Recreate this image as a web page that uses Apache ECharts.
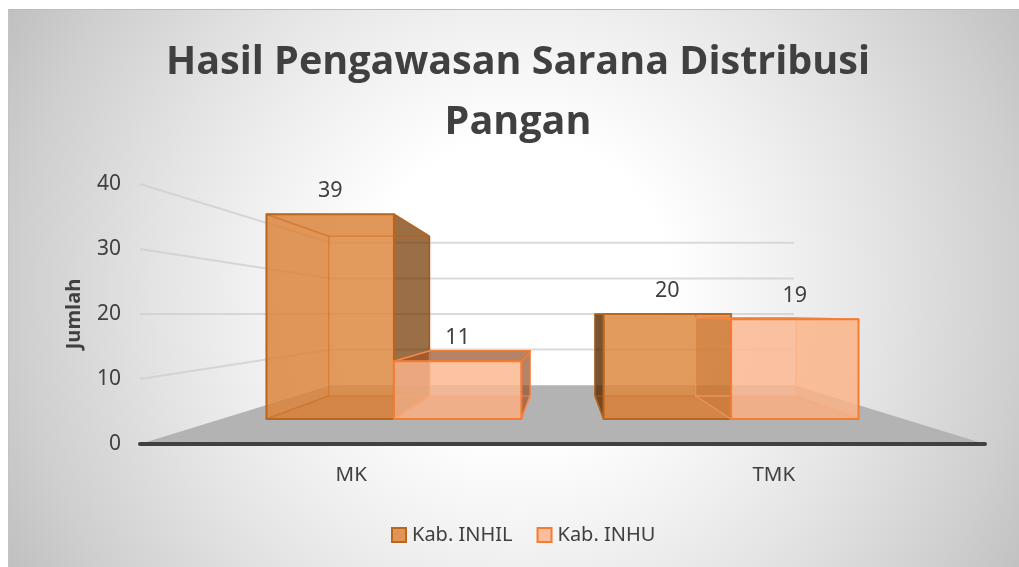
<!DOCTYPE html>
<html><head><meta charset="utf-8">
<script src="https://cdn.jsdelivr.net/npm/echarts@6/dist/echarts.min.js"></script>
<style>
html,body{margin:0;padding:0;background:#fff;overflow:hidden;}
#bg{position:absolute;left:8px;top:9px;width:1011px;height:558px;box-sizing:border-box;border-top:1px solid #bdbdbd;border-left:1px solid #c4c4c4;
background:radial-gradient(circle 581px at 510px 279px,#fff 0,#fff 150px,#efefef 280px,#e4e4e4 362px,#cfcfcf 500px,#c0c0c0 581px);}
#c{position:absolute;left:0;top:0;width:1019px;height:567px;}
</style></head><body><div id="bg"></div><div id="c"></div>
<script>
const titleText = 'Hasil Pengawasan Sarana Distribusi\nPangan';
const categories = ['MK', 'TMK'];
const inhil = [39, 20];
const inhu = [11, 19];
const yTicks = [0, 10, 20, 30, 40];
const yName = 'Jumlah';
const seriesNames = ['Kab. INHIL', 'Kab. INHU'];

const HORIZON = 20, S_WALL = 0.548, S_FRONT = 0.808, S_FRONT_X = 0.798, S_BACK = 0.63, BAR_FRAC = 0.378;
const LOOK = [
  { front: 'rgba(222,135,62,0.84)', stroke: '#B9671F', outerRight: 'rgba(115,55,0,0.72)', outerLeft: 'rgba(85,40,0,0.8)', outerStroke: '#A85C1C',
    inner: 'rgba(185,95,25,0.07)', bottom: 'rgba(185,95,25,0.15)', innerStroke: 'rgba(205,110,35,0.4)' },
  { front: 'rgba(250,183,143,0.84)', stroke: '#F47C34', outerRight: 'rgba(150,80,40,0.7)', outerLeft: 'rgba(150,80,40,0.7)', outerStroke: '#F47C34',
    inner: 'rgba(240,125,60,0.07)', bottom: 'rgba(230,120,60,0.12)', innerStroke: 'rgba(255,170,125,0.35)', shared: 'rgba(170,85,20,0.22)' }
];
function poly(points, fill, stroke, lw) {
  return { type: 'polygon', silent: true, shape: { points }, style: { fill, stroke, lineWidth: lw, lineJoin: 'round' } };
}
function vanish(params, api) {
  const g = params.coordSys;
  return [g.x + g.width / 2, api.coord([0, HORIZON])[1]];
}
function wallItem(params, api) {
  const g = params.coordSys, vp = vanish(params, api), v = api.value(1);
  const p = api.coord([0, v]);
  const a = [g.x, p[1]], b = [g.x + g.width, p[1]];
  const back = q => [vp[0] + S_WALL * (q[0] - vp[0]), vp[1] + S_WALL * (q[1] - vp[1])];
  const a2 = back(a), b2 = back(b);
  if (v === 0) return poly([a, b, b2, a2], '#B3B3B3', null, 0);
  return { type: 'polyline', silent: true, shape: { points: [a, a2, b2] },
    style: { stroke: 'rgba(205,205,205,0.75)', lineWidth: 2, fill: null } };
}
function barItem(si) {
  return function (params, api) {
    const L = LOOK[si], vp = vanish(params, api);
    const idx = api.value(0), val = api.value(1);
    const cx = api.coord([idx, 0])[0], w = api.size([1, 0])[0] * BAR_FRAC;
    const y0 = api.coord([idx, 0])[1], y1 = api.coord([idx, val])[1];
    const xa = si === 0 ? cx - w : cx, xb = si === 0 ? cx : cx + w;
    const P = (x, y, sx, sy) => [vp[0] + sx * (x - vp[0]), vp[1] + sy * (y - vp[1])];
    const F = (x, y) => P(x, y, S_FRONT_X, S_FRONT), B = (x, y) => P(x, y, S_BACK, S_BACK);
    const f = [F(xa, y1), F(xb, y1), F(xb, y0), F(xa, y0)];
    const b = [B(xa, y1), B(xb, y1), B(xb, y0), B(xa, y0)];
    const top = [f[0], f[1], b[1], b[0]], bot = [f[3], f[2], b[2], b[3]];
    const left = [f[0], f[3], b[3], b[0]], right = [f[1], f[2], b[2], b[1]];
    const kids = [poly(b, 'rgba(255,255,255,0)', L.innerStroke, 1.5)];
    const after = [];
    // left face
    if (si === 0 && xa > vp[0]) kids.push(poly(left, L.outerLeft, L.outerStroke, 1.5));
    else after.push(poly(left, (si === 1 && xa > vp[0]) ? L.shared : L.inner, L.innerStroke, 1.5));
    // right face
    if (xb < vp[0]) kids.push(poly(right, L.outerRight, L.outerStroke, 1.5));
    else after.push(poly(right, L.inner, L.innerStroke, 1.5));
    // top face
    if (y1 > vp[1] + 6) kids.push(poly(top, L.outerRight, L.outerStroke, 1.5));
    else after.push(poly(top, L.inner, L.innerStroke, 1.5));
    after.push(poly(bot, L.bottom, L.innerStroke, 1.5));
    kids.push(poly(f, L.front, null, 0));
    after.forEach(q => kids.push(q));
    kids.push(poly(f, 'rgba(255,255,255,0)', L.stroke, 2));
    kids.push({ type: 'text', silent: true, x: (f[0][0] + f[1][0]) / 2, y: f[0][1] - 23,
      style: { text: String(val), fill: '#404040', font: '21.5px "Noto Sans"', align: 'center', verticalAlign: 'middle' } });
    return { type: 'group', children: kids };
  };
}
const toRows = arr => arr.map((v, i) => [i, v]);
const chart = echarts.init(document.getElementById('c'), null, { renderer: 'canvas' });
chart.setOption({
  animation: false,
  backgroundColor: 'transparent',
  title: { text: titleText, left: 513, textAlign: 'center', top: 28,
    textStyle: { fontFamily: 'Open Sans', fontWeight: 'bold', fontSize: 39.5, lineHeight: 60, color: '#404040' } },
  legend: { data: seriesNames, left: 386, top: 520, icon: 'rect', itemWidth: 14, itemHeight: 14, itemGap: 24, selectedMode: false,
    textStyle: { fontFamily: 'Noto Sans', fontSize: 20, color: '#404040', padding: [0, 0, 0, 1] } },
  grid: { left: 140, right: 34, top: 184, height: 260, containLabel: false },
  xAxis: { type: 'category', data: categories, z: 5,
    axisLine: { lineStyle: { color: '#404040', width: 4, cap: 'round' } }, axisTick: { show: false },
    axisLabel: { color: '#404040', fontFamily: 'Noto Sans', fontSize: 20.5, margin: 21 }, splitLine: { show: false } },
  yAxis: { type: 'value', min: 0, max: 40, interval: 10, name: yName, nameLocation: 'middle', nameGap: 56, nameRotate: 90,
    nameTextStyle: { fontFamily: 'Open Sans', fontWeight: 'bold', fontSize: 20, color: '#404040' },
    axisLine: { show: false }, axisTick: { show: false }, splitLine: { show: false },
    axisLabel: { color: '#404040', fontFamily: 'Noto Sans', fontSize: 21, margin: 19, padding: [4, 0, 0, 0] } },
  series: [
    { type: 'custom', name: 'walls', silent: true, clip: false, data: yTicks.map(v => [0, v]), encode: { x: 0, y: 1 }, renderItem: wallItem, z: 1 },
    { type: 'custom', name: seriesNames[0], clip: false, data: toRows(inhil), encode: { x: 0, y: 1 }, renderItem: barItem(0), z: 2,
      itemStyle: { color: '#DE9555', borderColor: '#B9671F', borderWidth: 2 } },
    { type: 'custom', name: seriesNames[1], clip: false, data: toRows(inhu), encode: { x: 0, y: 1 }, renderItem: barItem(1), z: 3,
      itemStyle: { color: '#FBBD9B', borderColor: '#F47C34', borderWidth: 2 } }
  ]
});
</script></body></html>
